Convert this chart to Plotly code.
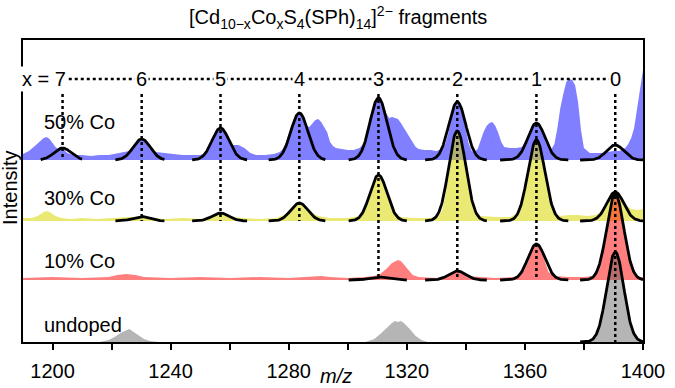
import numpy as np
import plotly.graph_objects as go

# [Cd10-xCoxS4(SPh)14]2- fragment positions, x = 0..7
peak_labels = ["0", "1", "2", "3", "4", "5", "6", "7"]
peak_mz = [1390.6, 1363.9, 1337.1, 1310.4, 1283.6, 1256.9, 1230.2, 1203.4]
fit_lo = [1378.7, 1351.6, 1326.2, 1300.3, 1273.2, 1247.3, 1221.3, 1196.0]
fit_hi = [1400.0, 1374.7, 1347.1, 1320.0, 1292.4, 1265.9, 1237.9, 1210.0]
fit_sigma = 2.9

# fitted gaussian heights per sample (None = no fit)
fit_50 = [15, 37, 58, 62, 47, 32, 21, 12]
fit_30 = [29, 81, 90, 46, 18, 8, 4.5, None]
fit_10 = [86, 36, 9, 3, None, None, None, None]
fit_undoped = [90, None, None, None, None, None, None, None]

# measured spectra (m/z, intensity)
spec_50 = [
    (1190, 6), (1192, 9), (1194, 14), (1196, 19), (1197, 22), (1198, 23), (1199, 21),
    (1200, 17), (1201, 13), (1202, 11), (1203, 11), (1204, 10), (1205, 7), (1207, 5),
    (1210, 5), (1213, 4), (1216, 5), (1219, 5), (1222, 7), (1224, 8), (1226, 9),
    (1227, 11), (1228, 15), (1229, 19), (1230, 21), (1231, 20), (1232, 16), (1233, 11),
    (1235, 8), (1238, 7), (1241, 6), (1244, 5), (1247, 5), (1250, 5), (1252, 7),
    (1253, 13), (1254, 20), (1255, 27), (1256, 31), (1257, 32), (1258, 30), (1259, 24),
    (1260, 18), (1261, 15), (1263, 15), (1265, 12), (1267, 7), (1269, 5), (1272, 5),
    (1275, 6), (1277, 8), (1278, 11), (1279, 17), (1280, 26), (1281, 35), (1282, 42),
    (1283, 46), (1284, 47), (1285, 42), (1286, 34), (1287, 33), (1288, 36), (1289, 40),
    (1290, 41), (1291, 38), (1292, 33), (1293, 28), (1294, 18), (1295, 14), (1296, 12),
    (1298, 11), (1300, 10), (1302, 10), (1304, 12), (1305, 15), (1306, 20), (1307, 31),
    (1308, 45), (1309, 56), (1310, 61), (1311, 62), (1312, 56), (1313, 47), (1314, 42),
    (1315, 43), (1316, 42), (1317, 41), (1318, 37), (1319, 32), (1320, 27), (1321, 22),
    (1322, 17), (1323, 13), (1324, 11), (1326, 10), (1328, 10), (1330, 9), (1332, 11),
    (1333, 16), (1334, 26), (1335, 42), (1336, 54), (1337, 58), (1338, 55), (1339, 44),
    (1340, 28), (1341, 16), (1342, 9), (1343, 8), (1344, 11), (1345, 20), (1346, 28),
    (1347, 34), (1348, 37), (1349, 38), (1350, 34), (1351, 27), (1352, 18), (1353, 13),
    (1355, 12), (1357, 12), (1359, 13), (1360, 17), (1361, 24), (1362, 31), (1363, 36),
    (1364, 37), (1365, 34), (1366, 28), (1367, 20), (1368, 14), (1369, 11), (1370, 16),
    (1371, 32), (1372, 52), (1373, 66), (1374, 78), (1375, 81), (1376, 80), (1377, 75),
    (1378, 58), (1379, 30), (1380, 12), (1382, 7), (1384, 7), (1386, 7), (1388, 8),
    (1390, 9), (1392, 9), (1394, 12), (1395, 16), (1396, 22), (1397, 32), (1398, 50),
    (1399, 72), (1400, 90),
]
spec_30 = [
    (1190, 3), (1193, 3), (1195, 5), (1197, 9), (1198, 10), (1199, 9), (1201, 5),
    (1203, 3), (1206, 2), (1210, 3), (1215, 2), (1220, 3), (1223, 4), (1226, 4),
    (1228, 4), (1230, 5), (1232, 4), (1234, 3), (1238, 2), (1244, 3), (1250, 2),
    (1253, 4), (1255, 7), (1257, 8), (1259, 7), (1261, 4), (1264, 3), (1270, 2),
    (1276, 3), (1279, 7), (1281, 13), (1283, 18), (1284, 18), (1286, 14), (1288, 8),
    (1290, 5), (1292, 4), (1294, 3), (1300, 3), (1304, 5), (1305, 8), (1306, 14),
    (1307, 22), (1308, 31), (1309, 40), (1310, 45), (1311, 46), (1312, 41), (1313, 33),
    (1314, 23), (1315, 14), (1316, 8), (1318, 4), (1322, 3), (1328, 3), (1331, 6),
    (1332, 11), (1333, 24), (1334, 42), (1335, 64), (1336, 83), (1337, 90), (1338, 86),
    (1339, 72), (1340, 52), (1341, 33), (1342, 18), (1343, 9), (1345, 5), (1350, 4),
    (1355, 4), (1358, 8), (1359, 20), (1360, 36), (1361, 52), (1362, 68), (1363, 78),
    (1364, 81), (1365, 77), (1366, 64), (1367, 46), (1368, 28), (1369, 14), (1370, 8),
    (1372, 5), (1375, 6), (1378, 6), (1381, 5), (1384, 6), (1386, 10), (1387, 14),
    (1388, 20), (1389, 25), (1390, 28), (1391, 29), (1392, 26), (1393, 20), (1394, 16),
    (1395, 14), (1396, 12), (1398, 11), (1400, 12),
]
spec_10 = [
    (1190, 2), (1200, 3), (1210, 2), (1219, 3), (1222, 5), (1225, 6), (1228, 5),
    (1231, 3), (1240, 2), (1250, 3), (1260, 2), (1270, 3), (1280, 2), (1286, 3),
    (1289, 4), (1291, 4), (1294, 3), (1300, 2), (1306, 3), (1309, 4), (1311, 6),
    (1313, 11), (1315, 17), (1317, 20), (1318, 19), (1320, 12), (1322, 5), (1324, 3),
    (1330, 2), (1334, 4), (1336, 8), (1337, 9), (1338, 8), (1340, 4), (1345, 3),
    (1350, 2), (1356, 3), (1358, 4), (1360, 11), (1361, 18), (1362, 27), (1363, 34),
    (1364, 36), (1365, 33), (1366, 25), (1367, 16), (1368, 8), (1370, 4), (1375, 3),
    (1380, 3), (1383, 4), (1384, 7), (1385, 13), (1386, 24), (1387, 39), (1388, 57),
    (1389, 74), (1390, 84), (1391, 85), (1392, 77), (1393, 61), (1394, 43), (1395, 27),
    (1396, 15), (1397, 8), (1398, 4), (1399, 3), (1400, 3),
]
spec_undoped = [
    (1190, 0), (1216, 0), (1219, 2), (1221, 5), (1223, 9), (1225, 12), (1226, 13),
    (1227, 11), (1229, 7), (1231, 3), (1233, 1), (1236, 0), (1306, 0), (1309, 3),
    (1311, 8), (1313, 14), (1315, 19), (1316, 21), (1317, 20), (1318, 21), (1319, 19),
    (1321, 13), (1323, 6), (1325, 2), (1327, 0), (1382, 0), (1383, 3), (1384, 7),
    (1385, 14), (1386, 25), (1387, 41), (1388, 60), (1389, 77), (1390, 88), (1391, 89),
    (1392, 80), (1393, 64), (1394, 45), (1395, 28), (1396, 16), (1397, 8), (1398, 4),
    (1399, 1), (1400, 0),
]

samples = ["50% Co", "30% Co", "10% Co", "undoped"]
spectra = [spec_50, spec_30, spec_10, spec_undoped]
fits = [fit_50, fit_30, fit_10, fit_undoped]
offsets = [182, 121, 62, 0]
colors = ["rgba(0,0,255,0.5)", "rgba(215,215,0,0.55)",
          "rgba(255,0,0,0.5)", "rgba(90,90,90,0.45)"]
label_y = [220, 144, 81, 17]

FONT = "Arial"
FS = 20
fig = go.Figure()

# filled spectra
for spec, off, col in zip(spectra, offsets, colors):
    mz = [p[0] for p in spec]
    h = [off + p[1] for p in spec]
    fig.add_trace(go.Scatter(
        x=mz + [mz[-1], mz[0]], y=h + [off, off],
        mode="lines", fill="toself", fillcolor=col,
        line=dict(width=0), hoverinfo="skip", showlegend=False,
    ))

# gaussian fits
for fit, off in zip(fits, offsets):
    for i, amp in enumerate(fit):
        if amp is None:
            continue
        xs = np.linspace(fit_lo[i], fit_hi[i], 120)
        ys = off + amp * np.exp(-0.5 * ((xs - peak_mz[i]) / fit_sigma) ** 2)
        fig.add_trace(go.Scatter(
            x=xs, y=ys, mode="lines", line=dict(color="black", width=2.8),
            hoverinfo="skip", showlegend=False,
        ))

label_row = 263
shapes = [dict(type="line", x0=1205.5, x1=1389, y0=label_row, y1=label_row,
               xref="x", yref="y", layer="above",
               line=dict(color="black", width=2.5, dash="3px,3px"))]

# dotted drop lines down to lowest spectrum containing the fragment
for i, c in enumerate(peak_mz):
    bottom = min(off for fit, off in zip(fits, offsets) if fit[i] is not None)
    shapes.append(dict(type="line", x0=c, x1=c, y0=254, y1=bottom,
                       xref="x", yref="y", layer="above",
                       line=dict(color="black", width=2.5, dash="3px,3px")))

annotations = []
for i, c in enumerate(peak_mz):
    if i == 7:
        annotations.append(dict(x=c + 2.0, y=label_row, text="x = 7", xanchor="right",
                                showarrow=False, bgcolor="white", borderpad=1,
                                font=dict(family=FONT, size=FS, color="black")))
    else:
        annotations.append(dict(x=c, y=label_row, text=peak_labels[i], xanchor="center",
                                showarrow=False, bgcolor="white", borderpad=1,
                                font=dict(family=FONT, size=FS, color="black")))

for name, ly in zip(samples, label_y):
    annotations.append(dict(x=1196.3, y=ly, text=name, xanchor="left", yanchor="middle",
                            showarrow=False, font=dict(family=FONT, size=FS, color="black")))

annotations += [
    dict(xref="paper", yref="paper", x=0.508, y=1.073, yanchor="middle",
         text="[Cd<sub>10\u2212x</sub>Co<sub>x</sub>S<sub>4</sub>(SPh)<sub>14</sub>]<sup>2\u2212</sup> fragments",
         showarrow=False, font=dict(family=FONT, size=FS, color="black")),
    dict(xref="paper", yref="paper", x=-0.021, y=0.51, xanchor="center", yanchor="middle",
         textangle=-90, text="Intensity", showarrow=False,
         font=dict(family=FONT, size=FS, color="black")),
    dict(xref="paper", yref="paper", x=0.505, y=-0.113, yanchor="middle",
         text="<i>m/z</i>", showarrow=False,
         font=dict(family=FONT, size=FS, color="black")),
]

fig.update_layout(
    width=675, height=388,
    margin=dict(l=23, r=32, t=40, b=46),
    paper_bgcolor="white", plot_bgcolor="white",
    shapes=shapes, annotations=annotations,
    xaxis=dict(range=[1190, 1400], tick0=1200, dtick=40, automargin=False,
               ticks="outside", ticklen=6, tickwidth=2, tickcolor="black",
               ticklabelstandoff=4,
               minor=dict(dtick=20, tick0=1200, ticks="outside", ticklen=6,
                          tickwidth=2, tickcolor="black", showgrid=False),
               showline=True, linewidth=2, linecolor="black", mirror=True,
               showgrid=False, zeroline=False,
               tickfont=dict(family=FONT, size=FS, color="black")),
    yaxis=dict(range=[0, 302], showticklabels=False, ticks="", automargin=False,
               showline=True, linewidth=2, linecolor="black", mirror=True,
               showgrid=False, zeroline=False),
)

# drop the default page margin so the figure fills the window
fig.write_html("out.html", config={"displayModeBar": False},
               post_script="document.body.style.margin='0';"
                           "document.documentElement.style.overflow='hidden';")
